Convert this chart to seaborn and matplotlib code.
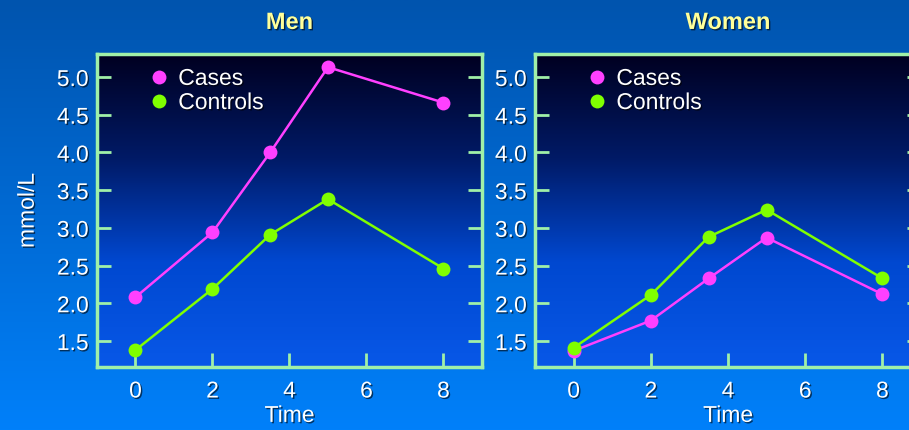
import numpy as np
import pandas as pd
import matplotlib
matplotlib.use("Agg")
import matplotlib.pyplot as plt
import matplotlib.patheffects as pe
from matplotlib.colors import LinearSegmentedColormap
import seaborn as sns

time = [0, 2, 3.5, 5, 8]
men_cases = [2.08, 2.94, 4.00, 5.13, 4.66]
men_controls = [1.38, 2.19, 2.91, 3.38, 2.46]
women_cases = [1.37, 1.77, 2.33, 2.87, 2.12]
women_controls = [1.41, 2.11, 2.88, 3.24, 2.33]
panels = ["Men", "Women"]
groups = ["Cases", "Controls"]
y_ticks = [1.5, 2.0, 2.5, 3.0, 3.5, 4.0, 4.5, 5.0]
x_ticks = [0, 2, 4, 6, 8]

rows = []
for panel, cases, controls in [("Men", men_cases, men_controls), ("Women", women_cases, women_controls)]:
    for t, c, k in zip(time, cases, controls):
        rows.append({"panel": panel, "time": t, "group": "Cases", "value": c})
        rows.append({"panel": panel, "time": t, "group": "Controls", "value": k})
df = pd.DataFrame(rows)

sns.set_style("white")
plt.rcParams['font.family'] = ['Liberation Sans', 'DejaVu Sans']

palette = {"Cases": "#ff40ff", "Controls": "#80ff00"}
spine_col = "#a0f0a8"
shadow = [pe.withSimplePatchShadow(offset=(1, -1), shadow_rgbFace="black", alpha=0.6)]

fig = plt.figure(figsize=(9.09, 4.30), dpi=100)

# figure background gradient
bg = fig.add_axes([0, 0, 1, 1], zorder=-10)
bg_cmap = LinearSegmentedColormap.from_list("bg", ["#0054ae", "#0080fa"])
bg.imshow(np.linspace(0, 1, 256).reshape(-1, 1), aspect="auto", cmap=bg_cmap,
          extent=[0, 1, 0, 1], origin="upper")
bg.set_axis_off()

ax_cmap = LinearSegmentedColormap.from_list("ax", ["#000020", "#001a66", "#0048d0", "#0858e8"])

positions = [[0.1067, 0.1465, 0.4235, 0.728], [0.5886, 0.1465, 0.4246, 0.728]]
for i, panel in enumerate(panels):
    ax = fig.add_axes(positions[i])
    ax.imshow(np.linspace(0, 1, 256).reshape(-1, 1), aspect="auto", cmap=ax_cmap,
              extent=[0, 1, 0, 1], transform=ax.transAxes, origin="upper", zorder=0)
    sub = df[df["panel"] == panel]
    sns.lineplot(data=sub, x="time", y="value", hue="group", hue_order=groups,
                 palette=palette, marker="o", markersize=10, markeredgewidth=0,
                 linewidth=1.8, ax=ax, zorder=3)
    ax.set_xlim(-1, 9)
    ax.set_ylim(1.155, 5.305)
    ax.set_xticks(x_ticks)
    ax.set_yticks(y_ticks)
    ax.set_yticklabels(["%.1f" % v for v in y_ticks])
    ax.tick_params(axis="both", direction="in", length=10, width=2, colors=spine_col,
                   labelcolor="white", labelsize=16.5)
    ax.tick_params(axis="y", right=True, left=True, pad=6)
    ax.tick_params(axis="x", bottom=True, top=False, pad=9)
    for lab in ax.get_xticklabels() + ax.get_yticklabels():
        lab.set_path_effects(shadow)
    for s in ax.spines.values():
        s.set_color(spine_col)
        s.set_linewidth(2.5)
        s.set_visible(True)
    ax.set_xlabel("Time", color="white", fontsize=16.5, labelpad=1, path_effects=shadow)
    if i == 0:
        ax.set_ylabel("mmol/L", color="white", fontsize=16.5, labelpad=13, path_effects=shadow)
    else:
        ax.set_ylabel("")
    ax.set_title(panel, color="#ffff99", fontsize=17, fontweight="bold", pad=18,
                 path_effects=shadow)
    leg = ax.legend(loc="upper left", bbox_to_anchor=(0.095, 1.01), frameon=False,
                    fontsize=16.5, handlelength=0.8, handletextpad=0.45, labelspacing=0.05,
                    borderaxespad=0.3)
    for h in leg.legend_handles:
        h.set_linestyle("none")
    for t in leg.get_texts():
        t.set_color("white")
        t.set_path_effects(shadow)
    ax.grid(False)

fig.savefig("out.png", dpi=100)
